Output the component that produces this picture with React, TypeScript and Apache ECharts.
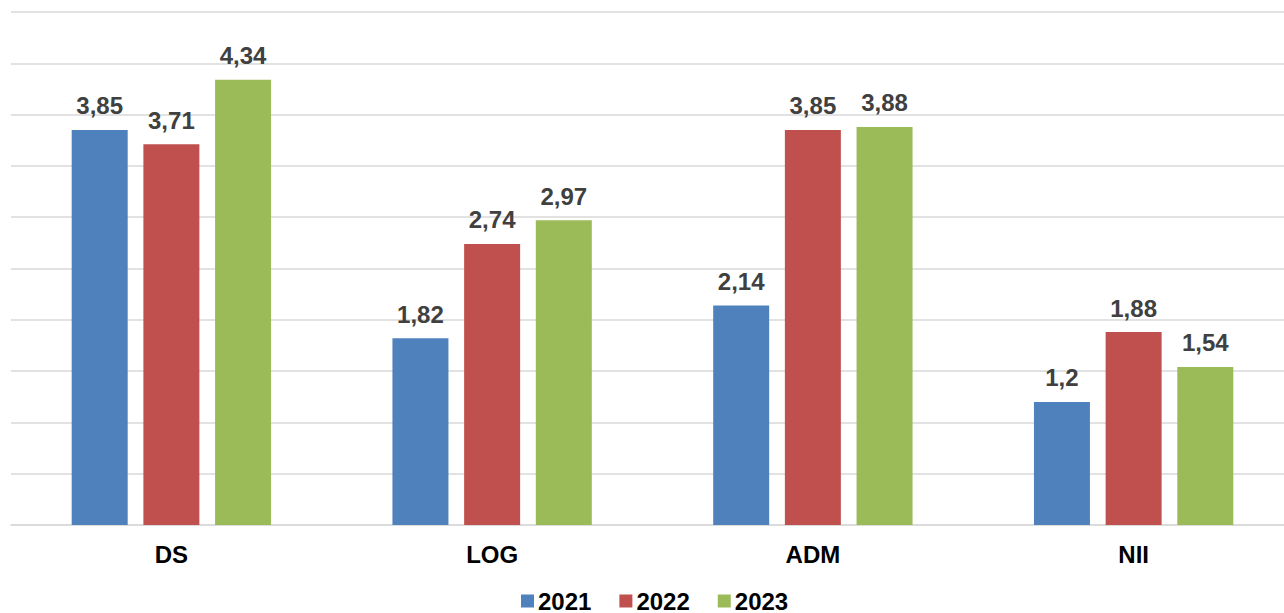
import React, { useEffect, useRef } from "react";
import * as echarts from "echarts";

const categories = ["DS", "LOG", "ADM", "NII"];
const seriesNames = ["2021", "2022", "2023"];
const values2021 = [3.85, 1.82, 2.14, 1.2];
const values2022 = [3.71, 2.74, 3.85, 1.88];
const values2023 = [4.34, 2.97, 3.88, 1.54];
const colors = ["#4F81BD", "#C0504D", "#9BBB59"];

export default function App() {
  const ref = useRef<HTMLDivElement>(null);
  useEffect(() => {
    if (!ref.current) return;
    const chart = echarts.init(ref.current, null, { renderer: "svg" });
    const font = "'Liberation Sans', Arial, sans-serif";
    const data = [values2021, values2022, values2023];
    chart.setOption({
      animation: false,
      textStyle: { fontFamily: font },
      grid: { left: 11, width: 1283, top: 12, height: 513, outerBoundsMode: "none", containLabel: false },
      legend: {
        bottom: 0,
        left: 521,
        padding: 0,
        itemWidth: 13,
        itemHeight: 13,
        itemGap: 28,
        icon: "rect",
        textStyle: {
          fontSize: 24,
          lineHeight: 22,
          fontWeight: "bold",
          color: "#000",
          fontFamily: font,
          padding: [0, 0, 0, -1],
        },
        data: seriesNames,
      },
      xAxis: {
        type: "category",
        data: categories,
        axisLine: { show: true, lineStyle: { color: "#d9d9d9", width: 1.5 } },
        axisTick: { show: false },
        axisLabel: { fontSize: 24, fontWeight: "bold", color: "#000", margin: 17, fontFamily: font },
      },
      yAxis: {
        type: "value",
        min: 0,
        max: 5,
        interval: 0.5,
        axisLabel: { show: false },
        axisLine: { show: false },
        axisTick: { show: false },
        splitLine: { lineStyle: { color: "#d9d9d9", width: 1.5 } },
      },
      series: seriesNames.map((name, i) => ({
        name,
        type: "bar",
        data: data[i],
        barWidth: 56,
        barGap: "28%",
        itemStyle: { color: colors[i] },
        label: {
          show: true,
          position: "top",
          distance: 12,
          fontSize: 24,
          fontWeight: "bold",
          color: "#404040",
          fontFamily: font,
          formatter: (p: any) => String(p.value).replace(".", ","),
        },
      })),
    });
    return () => chart.dispose();
  }, []);
  return <div ref={ref} style={{ width: 1284, height: 613, position: "absolute", left: 0, top: 0 }} />;
}
